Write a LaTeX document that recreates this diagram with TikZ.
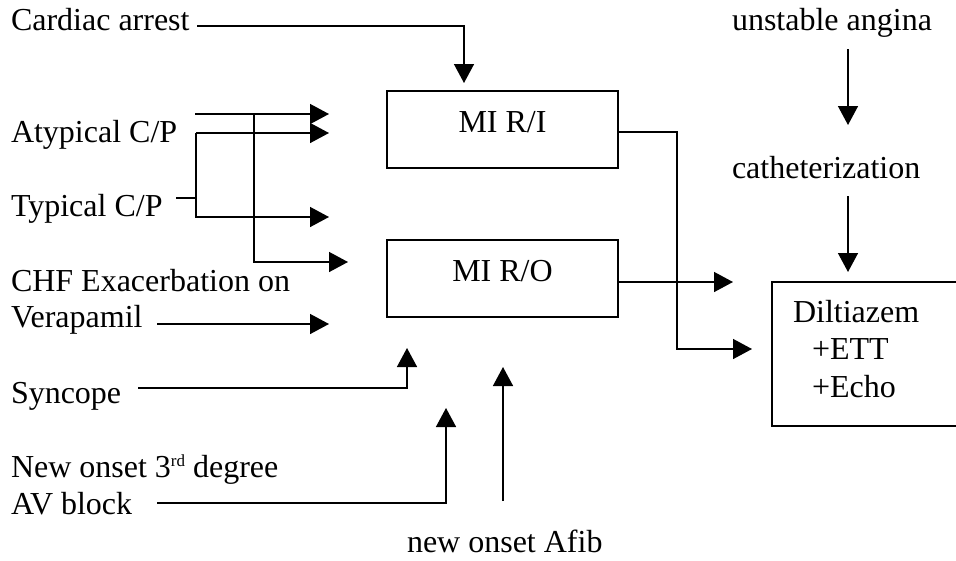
\documentclass[tikz,border=0pt]{standalone}
\usepackage{fontspec}
\setmainfont{Liberation Serif}
\usetikzlibrary{arrows.meta}
\begin{document}
\begin{tikzpicture}[x=1pt,y=-1pt,
  every node/.style={font=\fontsize{32}{36}\selectfont, inner sep=0pt, outer sep=0pt},
  lbl/.style={anchor=base west},
  box/.style={draw, line width=2pt, minimum width=231pt, minimum height=77pt, text height=21pt, text depth=16pt},
  conn/.style={line width=1.5pt},
  arr/.style={conn, -{Triangle[length=19pt,width=20pt]}}]
\useasboundingbox (0,0) rectangle (956,560);
% labels
\node[lbl] (ca)   at (11,30)  {Cardiac arrest};
\node[lbl] (aty)  at (11,142) {Atypical C/P};
\node[lbl] (typ)  at (11,216) {Typical C/P};
\node[lbl] (chf)  at (11,291) {CHF Exacerbation on};
\node[lbl] (ver)  at (11,327) {Verapamil};
\node[lbl] (syn)  at (11,403) {Syncope};
\node[lbl] (nob)  at (11,477) {New onset 3\raisebox{11pt}{\fontsize{17}{17}\selectfont rd} degree};
\node[lbl] (avb)  at (11,514) {AV block};
\node[lbl] (afib) at (407,552) {new onset Afib};
\node[lbl] (ua)   at (732,30)  {unstable angina};
\node[lbl] (cath) at (732,178) {catheterization};
% boxes
\node[box] (ri) at (502.5,129.5) {MI R/I};
\node[box] (ro) at (502.5,278.5) {MI R/O};
\begin{scope}
\clip (0,0) rectangle (956,560);
\node[draw, line width=2pt, anchor=north west, minimum width=200pt, minimum height=144pt] (dil) at (772,282) {};
\end{scope}
\node[lbl] (d1) at (793,322) {Diltiazem};
\node[lbl] (d2) at (812,359) {+ETT};
\node[lbl] (d3) at (812,397) {+Echo};
% coordinates
\coordinate (caS) at (197,26);
\coordinate (caT) at (464,83);
\coordinate (atyS) at (195,114);
\coordinate (atyT) at (329,114);
\coordinate (atyJ) at (254,114);
\coordinate (atyT2) at (348,262);
\coordinate (typS) at (176,198);
\coordinate (typJ) at (196,198);
\coordinate (typU) at (196,133);
\coordinate (typT1) at (329,133);
\coordinate (typT2) at (329,217);
\coordinate (verS) at (157,324);
\coordinate (verT) at (329,324);
\coordinate (synS) at (138,388);
\coordinate (synT) at (407,348);
\coordinate (avS) at (157,503);
\coordinate (avT) at (446,408);
\coordinate (afS) at (503,501);
\coordinate (afT) at (503,367);
\coordinate (riX) at (677,132);
\coordinate (riT) at (752,349);
\coordinate (roT) at (733,282);
\coordinate (uaS) at (848,49);
\coordinate (uaT) at (848,125);
\coordinate (caS2) at (848,196);
\coordinate (caT2) at (848,272);
% connectors
\draw[arr] (caS) -| (caT);
\draw[arr] (atyS) -- (atyT);
\draw[arr] (atyJ) |- (atyT2);
\draw[conn] (typS) -- (typJ);
\draw[arr] (typU) -- (typT1);
\draw[arr] (typU) |- (typT2);
\draw[arr] (verS) -- (verT);
\draw[arr] (synS) -| (synT);
\draw[arr] (avS) -| (avT);
\draw[arr] (afS) -- (afT);
\draw[arr] (ri.east |- riX) -- (riX) |- (riT);
\draw[arr] (ro.east |- roT) -- (roT);
\draw[arr] (uaS) -- (uaT);
\draw[arr] (caS2) -- (caT2);
\end{tikzpicture}
\end{document}
